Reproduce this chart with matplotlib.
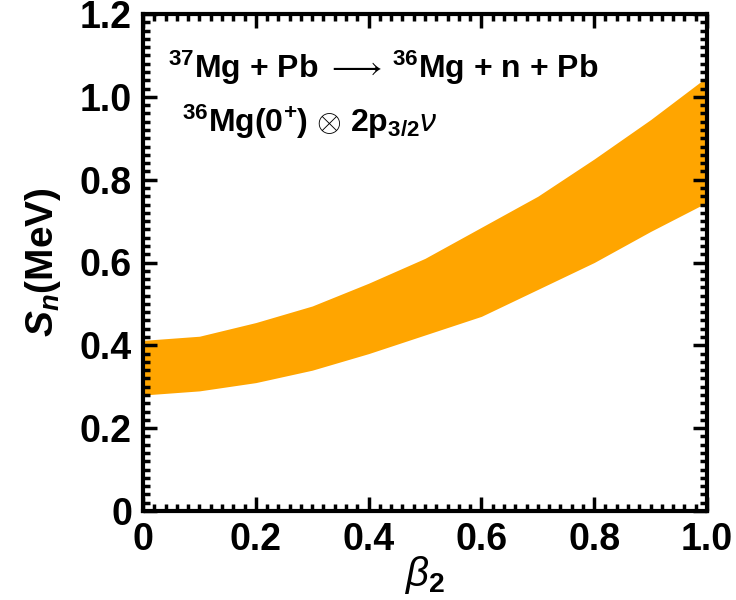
import matplotlib
matplotlib.use('Agg')
import matplotlib.pyplot as plt
import matplotlib.ticker as ticker

beta2 = [0.0, 0.1, 0.2, 0.3, 0.4, 0.5, 0.6, 0.7, 0.8, 0.9, 1.0]
sn_low = [0.280, 0.290, 0.310, 0.340, 0.380, 0.425, 0.470, 0.535, 0.600, 0.675, 0.745]
sn_high = [0.412, 0.422, 0.455, 0.495, 0.550, 0.610, 0.685, 0.760, 0.850, 0.945, 1.048]

xticks = [0, 0.2, 0.4, 0.6, 0.8, 1.0]
xtick_labels = ['0', '0.2', '0.4', '0.6', '0.8', '1.0']
yticks = [0, 0.2, 0.4, 0.6, 0.8, 1.0, 1.2]
ytick_labels = ['0', '0.2', '0.4', '0.6', '0.8', '1.0', '1.2']


def plotting():
    plt.rcParams['font.family'] = ['Liberation Sans', 'DejaVu Sans']
    plt.rcParams['mathtext.fontset'] = 'custom'
    plt.rcParams['mathtext.rm'] = 'Liberation Sans:bold'
    plt.rcParams['mathtext.bf'] = 'Liberation Sans:bold'
    plt.rcParams['mathtext.it'] = 'Liberation Sans:italic'
    plt.rcParams['mathtext.bfit'] = 'Liberation Sans:italic:bold'
    plt.rcParams['mathtext.sf'] = 'Liberation Sans:bold'

    fig = plt.figure(figsize=(7.36, 6.0), dpi=100)
    ax = fig.add_axes([143 / 736, 1 - 511 / 600, (707 - 143) / 736, (511 - 14) / 600])

    ax.fill_between(beta2, sn_low, sn_high, color='#FFA500', lw=0)

    ax.set_xlim(0, 1.0)
    ax.set_ylim(0, 1.2)
    ax.set_xticks(xticks)
    ax.set_xticklabels(xtick_labels)
    ax.set_yticks(yticks)
    ax.set_yticklabels(ytick_labels)
    ax.xaxis.set_minor_locator(ticker.MultipleLocator(0.02))
    ax.yaxis.set_minor_locator(ticker.MultipleLocator(0.02))

    for s in ax.spines.values():
        s.set_linewidth(3)
    ax.tick_params(which='both', direction='in', top=True, right=True, width=2.5)
    ax.tick_params(which='major', length=10, labelsize=27, pad=8)
    ax.tick_params(which='minor', length=5)
    for lab in ax.get_xticklabels() + ax.get_yticklabels():
        lab.set_fontweight('bold')

    ax.set_xlabel(r'$\beta_{\boldsymbol{2}}$', fontsize=29, labelpad=-3)
    ax.set_ylabel(r'$\boldsymbol{S}_{\boldsymbol{n}}$(MeV)', fontsize=28,
                  fontweight='bold', labelpad=12)

    ax.text(0.045, 1.045, r'$^{37}$Mg + Pb $\longrightarrow\,$$^{36}$Mg + n + Pb',
            fontsize=23, fontweight='bold')
    ax.text(0.07, 0.915, r'$^{36}$Mg(0$^{+}$) $\otimes$ 2p$_{3/2}\nu$',
            fontsize=23, fontweight='bold')

    plt.savefig('out.png', dpi=100)


if __name__ == '__main__':
    plotting()
